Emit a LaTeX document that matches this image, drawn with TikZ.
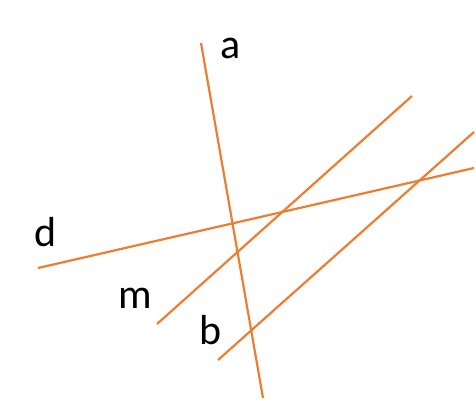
\documentclass[tikz,border=0pt]{standalone}
\usepackage{fontspec}
\setmainfont{Carlito}
\definecolor{lineorange}{HTML}{ED7D31}
\begin{document}
\begin{tikzpicture}[x=1pt,y=-1pt,
  ln/.style={draw=lineorange,line width=2.2pt},
  lbl/.style={font=\fontsize{42}{46}\selectfont,inner sep=0pt}]
\useasboundingbox (0,0) rectangle (476,400);
\coordinate (a1) at (201,43);
\coordinate (a2) at (263,398);
\coordinate (m1) at (157,324);
\coordinate (m2) at (412,96);
\coordinate (b1) at (218,360);
\coordinate (b2) at (474,132);
\coordinate (d1) at (38,268);
\coordinate (d2) at (474,168);
\draw[ln] (a1) -- (a2);
\draw[ln] (m1) -- (m2);
\draw[ln] (b1) -- (b2);
\draw[ln] (d1) -- (d2);
\node[lbl] (la) at (231,48) {a};
\node[lbl] (ld) at (46,232) {d};
\node[lbl] (lm) at (135,298) {m};
\node[lbl] (lb) at (211,330) {b};
\end{tikzpicture}
\end{document}
